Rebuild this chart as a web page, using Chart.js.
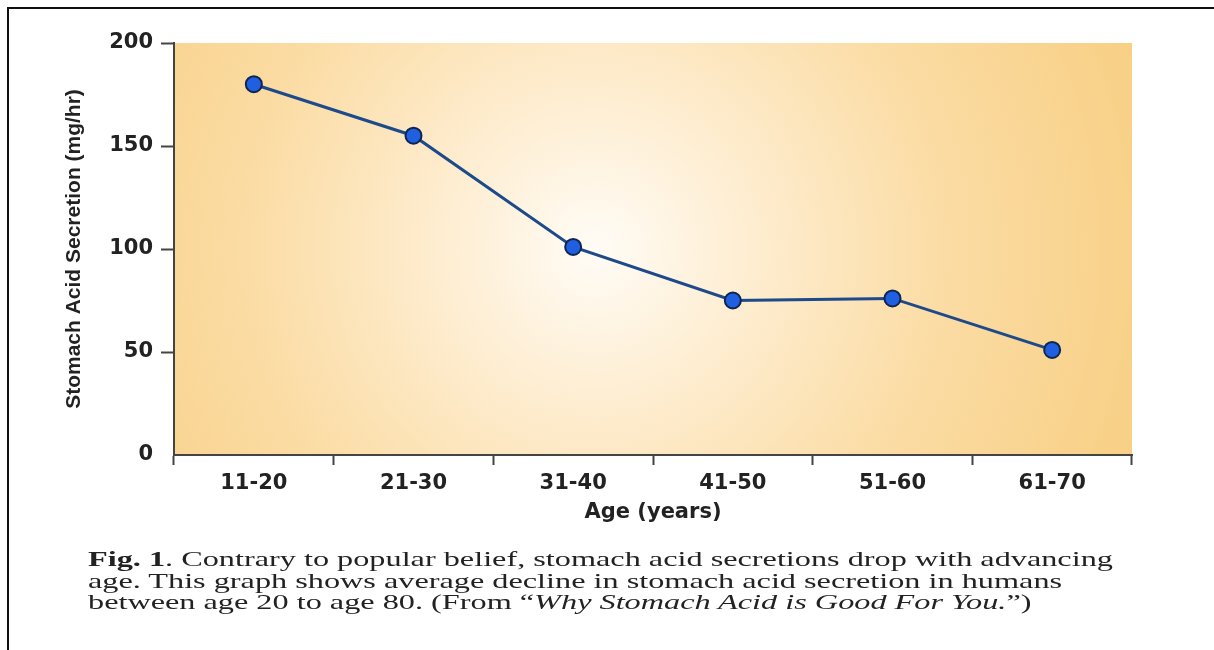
<!DOCTYPE html>
<html>
<head>
<meta charset="utf-8">
<script src="https://cdn.jsdelivr.net/npm/chart.js@4/dist/chart.umd.min.js"></script>
<style>
    body { margin: 0; background: #fff; overflow: hidden; }
    #wrap { position: relative; width: 1214px; height: 650px; }
    #frame { position: absolute; left: 7px; top: 7px; width: 1220px; height: 660px;
             border-top: 2px solid #111; border-left: 2px solid #111; }
    #caption { position: absolute; left: 88px; top: 548px; font-family: "Liberation Serif", serif;
               font-size: 22px; line-height: 21.5px; color: #222; transform-origin: 0 0; white-space: nowrap; }
</style>
</head>
<body>
<div id="wrap">
    <canvas id="grafico" width="1214" height="650"></canvas>
    <div id="frame"></div>
    <div id="caption">
        <div><span id="linha1"><b>Fig. 1</b>. Contrary to popular belief, stomach acid secretions drop with advancing</span></div>
        <div>age. This graph shows average decline in stomach acid secretion in humans</div>
        <div>between age 20 to age 80. (From “<i>Why Stomach Acid is Good For You.</i>”)</div>
    </div>
</div>
<script>
// dados
const faixasEtarias = ['11-20', '21-30', '31-40', '41-50', '51-60', '61-70'];
const secrecaoAcida = [180, 155, 101, 75, 76, 51];
const ticksY = [0, 50, 100, 150, 200];

// fundo com gradiente radial na área do gráfico
const fundoGradiente = {
    id: 'fundoGradiente',
    beforeDraw(chart) {
        const { ctx, chartArea: a } = chart;
        const cx = a.left + (a.right - a.left) * 0.44;
        const cy = a.top + (a.bottom - a.top) * 0.5;
        const g = ctx.createRadialGradient(cx, cy, 0, cx, cy, 580);
        g.addColorStop(0, '#fffcf6');
        g.addColorStop(0.25, '#feeed3');
        g.addColorStop(0.6, '#fbdca4');
        g.addColorStop(1, '#f8cf84');
        ctx.save();
        ctx.fillStyle = g;
        ctx.fillRect(a.left, a.top, a.right - a.left, a.bottom - a.top);
        ctx.restore();
    }
};

const fonteEixo = { family: 'DejaVu Sans', size: 21, weight: 'bold' };

const ctx = document.getElementById('grafico').getContext('2d');
new Chart(ctx, {
    type: 'line',
    data: {
        labels: faixasEtarias,
        datasets: [{
            label: 'Stomach Acid Secretion',
            data: secrecaoAcida,
            borderColor: '#1d4a8a',
            borderWidth: 3,
            pointRadius: 8,
            pointBackgroundColor: '#1f5fe0',
            pointBorderColor: '#0d2550',
            pointBorderWidth: 2,
            tension: 0
        }]
    },
    options: {
        responsive: false,
        animation: false,
        layout: { padding: { left: 40, right: 82, top: 43, bottom: 0 } },
        plugins: { legend: { display: false }, tooltip: { enabled: false } },
        scales: {
            x: {
                offset: true,
                grid: { offset: true, drawOnChartArea: false, tickLength: 10, tickColor: '#444', tickWidth: 2 },
                border: { color: '#444', width: 2 },
                ticks: { color: '#222', padding: 6, font: fonteEixo },
                title: { display: true, text: 'Age (years)', color: '#222', padding: { top: 0, bottom: 125 },
                         font: fonteEixo },
                afterFit(scale) { scale.height = 195; }
            },
            y: {
                min: 0, max: 200,
                afterBuildTicks(scale) { scale.ticks = ticksY.map(v => ({ value: v })); },
                grid: { drawOnChartArea: false, tickLength: 13, tickWidth: 2,
                        tickColor: c => c.tick && c.tick.value === 0 ? 'rgba(0,0,0,0)' : '#444' },
                border: { color: '#444', width: 2 },
                ticks: { color: '#222', padding: 8, font: fonteEixo },
                title: { display: true, text: 'Stomach Acid Secretion (mg/hr)', color: '#222', padding: { top: 22, bottom: 0 },
                         font: { family: 'Liberation Sans', size: 21, weight: 'bold' } },
                afterFit(scale) { scale.width = 134; }
            }
        }
    },
    plugins: [fundoGradiente]
});

// ajusta a largura da legenda para ficar igual ao original
const legenda = document.getElementById('caption');
const larguraNatural = document.getElementById('linha1').offsetWidth;
legenda.style.transform = `scaleX(${1025 / larguraNatural})`;
</script>
</body>
</html>
